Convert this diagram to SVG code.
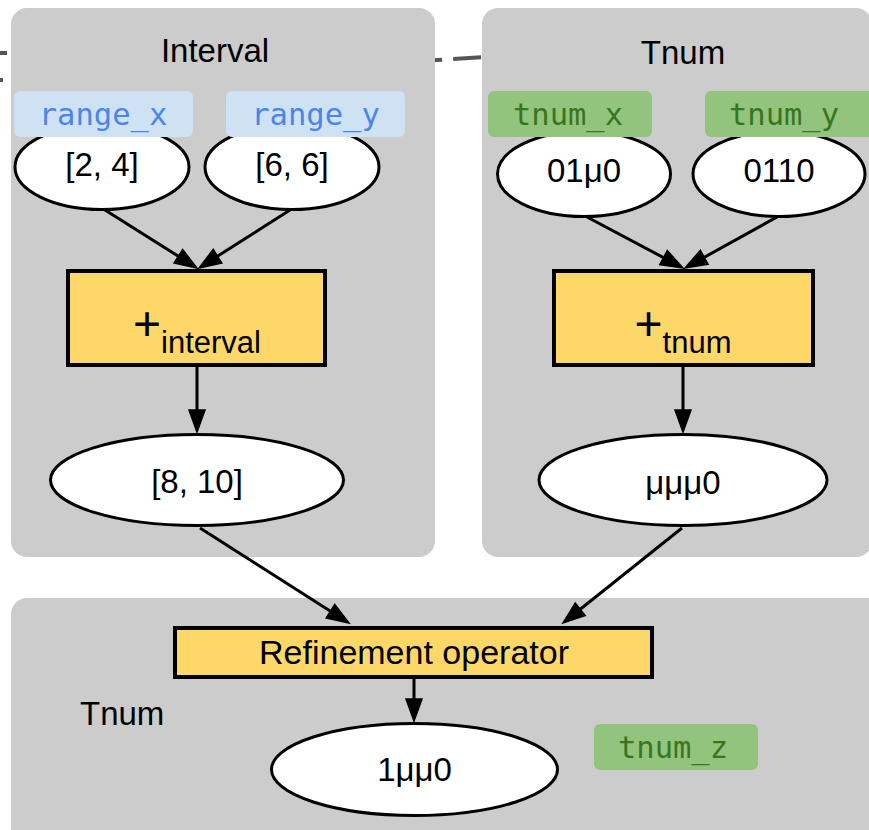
<svg xmlns="http://www.w3.org/2000/svg" width="869" height="830" viewBox="0 0 869 830">
  <style>
    .cluster { fill: #cccccc; stroke: none; }
    .title { font-family: "Liberation Sans", Arial, sans-serif; font-size: 33px; fill: #000; }
    .val { font-family: "Liberation Sans", Arial, sans-serif; font-size: 33px; fill: #000; text-anchor: middle; }
    .ell { fill: #ffffff; stroke: #000; stroke-width: 3; }
    .op { fill: #fdd868; stroke: #000; stroke-width: 4; }
    .plus { font-family: "Liberation Sans", Arial, sans-serif; font-size: 48px; fill: #000; }
    .sub { font-family: "Liberation Sans", Arial, sans-serif; font-size: 31px; fill: #000; }
    .tag { font-family: "DejaVu Sans Mono", "Liberation Mono", monospace; font-size: 30.5px; text-anchor: middle; }
    .tag-blue rect { fill: #cfe2f3; }
    .tag-blue text { fill: #4a86e8; }
    .tag-green rect { fill: #93c47d; }
    .tag-green text { fill: #38761d; }
    .edge { fill: none; stroke: #000; stroke-width: 3; marker-end: url(#head); }
    .dash { fill: none; stroke: #555555; stroke-width: 4; }
  </style>
  <defs>
    <marker id="head" markerUnits="userSpaceOnUse" markerWidth="30" markerHeight="24" viewBox="-3 -3 30 24" refX="14" refY="8" orient="auto">
      <path d="M0,0 L22,8 L0,16 Z" fill="#000" stroke="#000" stroke-width="1.5"/>
    </marker>
  </defs>

  <rect width="869" height="830" fill="#ffffff"/>

  <!-- dashed link running behind the clusters -->
  <g id="link">
    <path class="dash" d="M 520 55 L 437 60 C 250 72, 60 82, 12 80" style="stroke-dasharray: 28 11"/>
    <path class="dash" d="M 7 53 L -20 53"/>
    <path class="dash" d="M 3 80 L -20 80"/>
  </g>

  <!-- clusters -->
  <g id="cluster-interval">
    <rect class="cluster" x="11" y="8" width="424" height="549" rx="16"/>
    <text class="title" x="215" y="62" text-anchor="middle">Interval</text>
  </g>
  <g id="cluster-tnum">
    <rect class="cluster" x="482" y="8" width="390" height="549" rx="16"/>
    <text class="title" x="683" y="64" text-anchor="middle">Tnum</text>
  </g>
  <g id="cluster-result">
    <rect class="cluster" x="11" y="598" width="880" height="260" rx="16"/>
    <text class="title" x="80" y="725">Tnum</text>
  </g>

  <!-- connectors -->
  <g id="edges">
    <path class="edge" d="M 105 210 L 190.2 263.7"/>
    <path class="edge" d="M 290 210 L 205.7 263.7"/>
    <path class="edge" d="M 587 217 L 675.9 264.2"/>
    <path class="edge" d="M 777 217 L 692.0 264.1"/>
    <path class="edge" d="M 197 367 L 197 424"/>
    <path class="edge" d="M 683 367 L 683 424"/>
    <path class="edge" d="M 200 528 L 342.3 618.7"/>
    <path class="edge" d="M 682 528 L 569.3 618.0"/>
    <path class="edge" d="M 414 679 L 414 713"/>
  </g>

  <!-- interval inputs -->
  <g id="range-x-node">
    <ellipse class="ell" cx="102" cy="167" rx="87" ry="42.5"/>
    <text class="val" x="102" y="176">[2, 4]</text>
  </g>
  <g id="range-y-node">
    <ellipse class="ell" cx="292" cy="167" rx="87" ry="42.5"/>
    <text class="val" x="292" y="176">[6, 6]</text>
  </g>

  <!-- tnum inputs -->
  <g id="tnum-x-node">
    <ellipse class="ell" cx="584" cy="174" rx="86.5" ry="42.5"/>
    <text class="val" x="584" y="182">01μ0</text>
  </g>
  <g id="tnum-y-node">
    <ellipse class="ell" cx="779" cy="174" rx="86" ry="42.5"/>
    <text class="val" x="779" y="182">0110</text>
  </g>

  <!-- operators -->
  <g id="add-interval">
    <rect class="op" x="68" y="271" width="257" height="94"/>
    <text x="197" y="340" text-anchor="middle"><tspan class="plus">+</tspan><tspan class="sub" dy="13">interval</tspan></text>
  </g>
  <g id="add-tnum">
    <rect class="op" x="554" y="271" width="259" height="94"/>
    <text x="683" y="340" text-anchor="middle"><tspan class="plus">+</tspan><tspan class="sub" dy="13">tnum</tspan></text>
  </g>

  <!-- sums -->
  <g id="interval-sum">
    <ellipse class="ell" cx="197" cy="480" rx="146.5" ry="45.5"/>
    <text class="val" x="197" y="493">[8, 10]</text>
  </g>
  <g id="tnum-sum">
    <ellipse class="ell" cx="683" cy="480" rx="144" ry="45.5"/>
    <text class="val" x="683" y="494">μμμ0</text>
  </g>

  <!-- refinement -->
  <g id="refinement">
    <rect class="op" x="175" y="628" width="477" height="49"/>
    <text class="val" x="414" y="664" style="font-size:34px">Refinement operator</text>
  </g>
  <g id="tnum-z-node">
    <ellipse class="ell" cx="414.5" cy="769.5" rx="143" ry="46"/>
    <text class="val" x="414.5" y="781">1μμ0</text>
  </g>

  <!-- variable tags -->
  <g id="tag-range-x" class="tag-blue">
    <rect x="14" y="91" width="179" height="46" rx="6"/>
    <text class="tag" x="103" y="125">range_x</text>
  </g>
  <g id="tag-range-y" class="tag-blue">
    <rect x="226" y="91" width="179" height="46" rx="6"/>
    <text class="tag" x="315.5" y="125">range_y</text>
  </g>
  <g id="tag-tnum-x" class="tag-green">
    <rect x="488" y="91" width="164" height="46" rx="6"/>
    <text class="tag" x="568" y="125">tnum_x</text>
  </g>
  <g id="tag-tnum-y" class="tag-green">
    <rect x="705" y="91" width="170" height="46" rx="6"/>
    <text class="tag" x="784" y="125">tnum_y</text>
  </g>
  <g id="tag-tnum-z" class="tag-green">
    <rect x="594" y="724" width="164" height="46" rx="6"/>
    <text class="tag" x="673" y="758">tnum_z</text>
  </g>
</svg>
